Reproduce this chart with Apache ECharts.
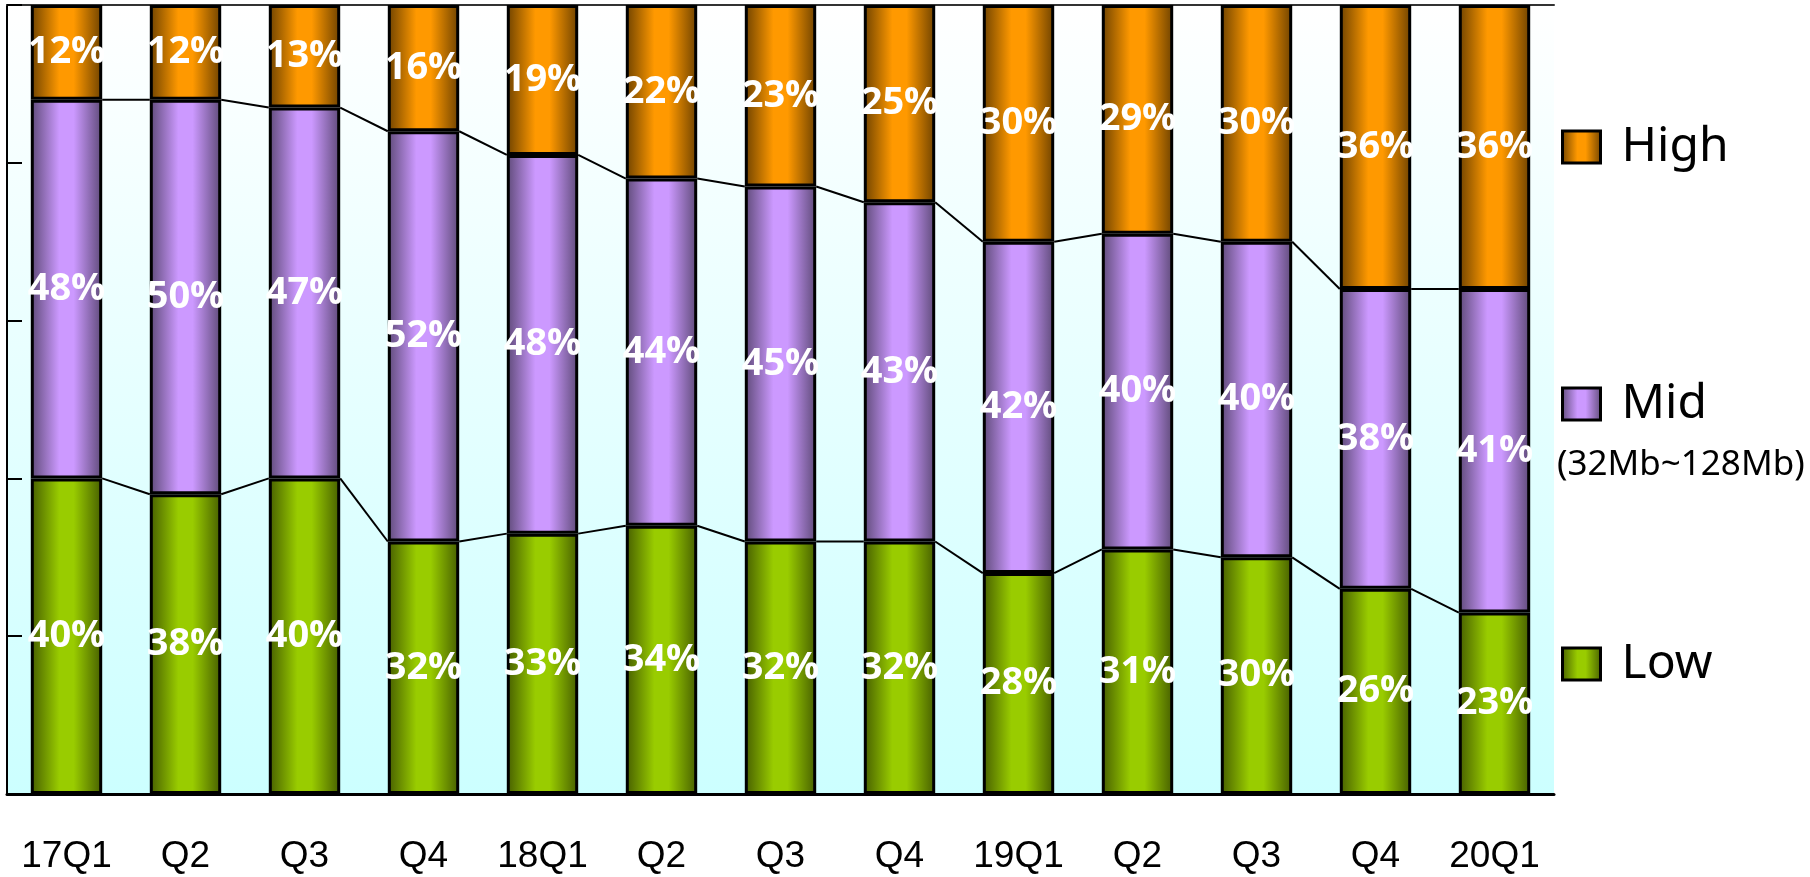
<!DOCTYPE html>
<html>
<head>
<meta charset="utf-8">
<script src="https://cdn.jsdelivr.net/npm/echarts@6/dist/echarts.min.js"></script>
<style>
  html, body { margin: 0; padding: 0; background: #fff; }
  #main { width: 1810px; height: 877px; }
</style>
</head>
<body>
<div id="main"></div>
<script>
// quarters
var categories = ['17Q1', 'Q2', 'Q3', 'Q4', '18Q1', 'Q2', 'Q3', 'Q4', '19Q1', 'Q2', 'Q3', 'Q4', '20Q1'];
// share per tier, %
var lowData  = [40, 38, 40, 32, 33, 34, 32, 32, 28, 31, 30, 26, 23];
var midData  = [48, 50, 47, 52, 48, 44, 45, 43, 42, 40, 40, 38, 41];
var highData = [12, 12, 13, 16, 19, 22, 23, 25, 30, 29, 30, 36, 36];
var yTicks = [0, 20, 40, 60, 80, 100];

function shade(dark, light) {
    return {
        type: 'linear', x: 0, y: 0, x2: 1, y2: 0,
        colorStops: [
            { offset: 0, color: dark },
            { offset: 0.4, color: light },
            { offset: 0.6, color: light },
            { offset: 1, color: dark }
        ]
    };
}
var orange = shade('#6e4200', '#ff9900');
var purple = shade('#5e4a78', '#cc99ff');
var green = shade('#465e00', '#99cc00');

// boundary lines between neighbouring bars
var lowTop = lowData.slice();
var midTop = lowData.map(function (v, i) { return v + midData[i]; });
function pairs(vals) {
    return vals.slice(0, -1).map(function (v, i) { return [i, v, vals[i + 1]]; });
}
function renderLink(params, api) {
    var i = api.value(0);
    var p0 = api.coord([i, api.value(1)]);
    var p1 = api.coord([i + 1, api.value(2)]);
    var half = api.size([1, 0])[0] * 0.3;
    return {
        type: 'line',
        shape: { x1: p0[0] + half, y1: p0[1], x2: p1[0] - half, y2: p1[1] },
        style: { stroke: '#000', lineWidth: 2 }
    };
}

var labelStyle = {
    show: true,
    position: 'inside',
    formatter: '{c}%',
    color: '#fff',
    fontSize: 38,
    fontWeight: 'bold',
    fontFamily: 'Open Sans'
};

function legendBox(name, top) {
    return {
        data: [name],
        left: 1561,
        top: top,
        padding: 0,
        orient: 'vertical',
        icon: 'rect',
        itemWidth: 38,
        itemHeight: 32,
        itemStyle: { borderColor: '#000', borderWidth: 3 },
        textStyle: { fontSize: 48, lineHeight: 48, color: '#000', fontFamily: 'Noto Sans', padding: [0, 0, 0, 16] }
    };
}

var chart = echarts.init(document.getElementById('main'));
var option = {
    animation: false,
    grid: {
        left: 7, right: 256, top: 5, bottom: 83,
        show: true,
        borderWidth: 0,
        backgroundColor: {
            type: 'linear', x: 0, y: 0, x2: 0, y2: 1,
            colorStops: [{ offset: 0, color: '#ffffff' }, { offset: 1, color: '#ccffff' }]
        }
    },
    legend: [
        legendBox('High', 123),
        legendBox('Mid', 380),
        legendBox('Low', 640)
    ],
    graphic: [{
        type: 'text',
        left: 1557,
        top: 448,
        style: { text: '(32Mb~128Mb)', fontSize: 35, fontFamily: 'Noto Sans', fill: '#000' }
    }],
    xAxis: [{
        type: 'category',
        data: categories,
        axisLine: { lineStyle: { color: '#000', width: 3 } },
        axisTick: { inside: true, length: 10, lineStyle: { color: '#000', width: 2 } },
        axisLabel: { color: '#000', fontSize: 37, fontFamily: 'Liberation Sans', margin: 44 }
    }, {
        type: 'category',
        data: categories,
        position: 'top',
        axisLine: { lineStyle: { color: '#333', width: 2 } },
        axisTick: { show: false },
        axisLabel: { show: false }
    }],
    yAxis: {
        type: 'value',
        min: yTicks[0],
        max: yTicks[yTicks.length - 1],
        interval: 20,
        axisLine: { show: true, lineStyle: { color: '#000', width: 2 } },
        axisTick: { show: true, inside: true, length: 15, lineStyle: { color: '#000', width: 2 } },
        axisLabel: { show: false },
        splitLine: { show: false }
    },
    series: [
        {
            name: 'Low', type: 'bar', stack: 'total', barWidth: '60%',
            data: lowData,
            itemStyle: { color: green, borderColor: '#000', borderWidth: 3 },
            label: labelStyle
        },
        {
            name: 'Mid', type: 'bar', stack: 'total', barWidth: '60%',
            data: midData,
            itemStyle: { color: purple, borderColor: '#000', borderWidth: 3 },
            label: labelStyle
        },
        {
            name: 'High', type: 'bar', stack: 'total', barWidth: '60%',
            data: highData,
            itemStyle: { color: orange, borderColor: '#000', borderWidth: 3 },
            label: labelStyle
        },
        {
            type: 'custom', renderItem: renderLink, data: pairs(lowTop),
            encode: { x: 0, y: [1, 2] }, silent: true
        },
        {
            type: 'custom', renderItem: renderLink, data: pairs(midTop),
            encode: { x: 0, y: [1, 2] }, silent: true
        }
    ]
};
chart.setOption(option);
</script>
</body>
</html>
